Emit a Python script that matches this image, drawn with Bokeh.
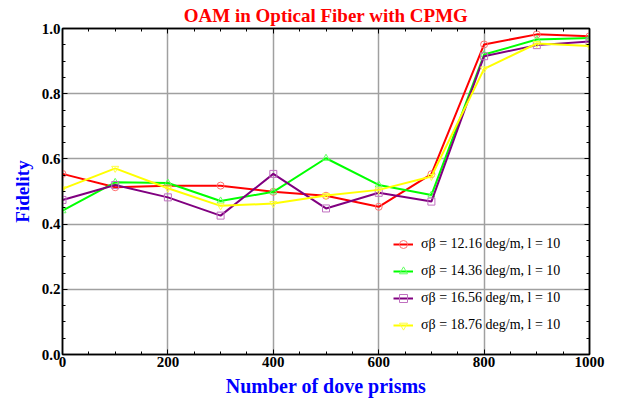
from bokeh.plotting import figure
from bokeh.models import (Range1d, LinearAxis, Legend, LegendItem, FixedTicker,
                          BasicTicker, CustomJSTickFormatter, PrintfTickFormatter)
from bokeh.embed import file_html
from bokeh.resources import INLINE

x_vals = [0, 100, 200, 300, 400, 500, 600, 700, 800, 900, 1000]
fid_1216 = [0.554, 0.513, 0.518, 0.518, 0.499, 0.487, 0.453, 0.553, 0.951, 0.982, 0.976]
fid_1436 = [0.441, 0.528, 0.526, 0.471, 0.499, 0.602, 0.520, 0.489, 0.920, 0.966, 0.971]
fid_1656 = [0.474, 0.520, 0.482, 0.426, 0.554, 0.448, 0.496, 0.469, 0.915, 0.949, 0.960]
fid_1876 = [0.508, 0.571, 0.510, 0.456, 0.463, 0.488, 0.505, 0.546, 0.876, 0.954, 0.946]

labels = ["σβ = 12.16 deg/m, l = 10", "σβ = 14.36 deg/m, l = 10",
          "σβ = 16.56 deg/m, l = 10", "σβ = 18.76 deg/m, l = 10"]
x_grid = [200, 400, 600, 800]
y_grid = [0.2, 0.4, 0.6, 0.8]

FONT = "Liberation Serif"

p = figure(width=628, height=402, output_backend="svg", toolbar_location=None,
           x_range=Range1d(0, 1000), y_range=Range1d(0, 1),
           min_border_left=62, min_border_right=39, min_border_top=0, min_border_bottom=48)

p.title.text = "OAM in Optical Fiber with CPMG"
p.title.text_color = "#ff0000"
p.title.text_font = FONT
p.title.text_font_style = "bold"
p.title.text_font_size = "19px"
p.title.align = "center"
p.title.offset = 9
p.title.standoff = 5

p.outline_line_color = "black"
p.outline_line_width = 1.5

p.xgrid.ticker = FixedTicker(ticks=x_grid)
p.ygrid.ticker = FixedTicker(ticks=y_grid)
for g in (p.xgrid, p.ygrid):
    g.grid_line_color = "#a0a0a0"
    g.grid_line_width = 1.5

def style_axis(ax):
    ax.axis_line_color = "black"
    ax.axis_line_width = 1.5
    ax.major_tick_in = 5
    ax.major_tick_out = 0
    ax.minor_tick_in = 3
    ax.minor_tick_out = 0
    ax.major_tick_line_color = "black"
    ax.minor_tick_line_color = "black"
    ax.major_label_text_font = FONT
    ax.major_label_text_font_style = "bold"
    ax.major_label_text_font_size = "15px"
    ax.major_label_text_color = "black"
    ax.major_label_standoff = 2

p.xaxis.ticker = BasicTicker(desired_num_ticks=5, num_minor_ticks=4)
p.yaxis.ticker = BasicTicker(desired_num_ticks=5, num_minor_ticks=4)
style_axis(p.xaxis[0])
style_axis(p.yaxis[0])
p.xaxis[0].formatter.use_scientific = False
p.yaxis[0].formatter = PrintfTickFormatter(format="%.1f")

p.xaxis.axis_label = "Number of dove prisms"
p.yaxis.axis_label = "Fidelity"
for ax, sz in ((p.xaxis[0], "20px"), (p.yaxis[0], "19px")):
    ax.axis_label_text_font = FONT
    ax.axis_label_text_font_style = "bold"
    ax.axis_label_text_font_size = sz
    ax.axis_label_text_color = "#0000ff"
p.xaxis[0].axis_label_standoff = 5
p.yaxis[0].axis_label_standoff = 6

blank = CustomJSTickFormatter(code="return '';")
top = LinearAxis(ticker=BasicTicker(desired_num_ticks=5, num_minor_ticks=4), formatter=blank)
right = LinearAxis(ticker=BasicTicker(desired_num_ticks=5, num_minor_ticks=4), formatter=blank)
style_axis(top)
style_axis(right)
top.major_label_standoff = 0
right.major_label_standoff = 0
p.add_layout(top, "above")
p.add_layout(right, "right")

series = [fid_1216, fid_1436, fid_1656, fid_1876]
colors = ["#ff0000", "#00ff00", "#800080", "#ffff00"]
mcolors = ["#ff7070", "#60ff60", "#c070c0", "#ffff40"]
markers = ["circle", "triangle", "square", "inverted_triangle"]

items = []
for ys, c, mc, m, lab in zip(series, colors, mcolors, markers, labels):
    r1 = p.line(x_vals, ys, line_color=c, line_width=2)
    r2 = p.scatter(x_vals, ys, marker=m, size=7, fill_alpha=0, line_color=mc, line_width=1)
    items.append(LegendItem(label=lab, renderers=[r1, r2]))

legend = Legend(items=items, location=(331, 19), margin=0, padding=0,
                background_fill_alpha=0, border_line_alpha=0,
                label_text_font=FONT, label_text_font_size="14px",
                label_text_color="black",
                glyph_width=20, glyph_height=20, label_height=20,
                spacing=7, label_standoff=8)
p.add_layout(legend, "center")

open("out.html", "w").write(file_html(p, INLINE))
